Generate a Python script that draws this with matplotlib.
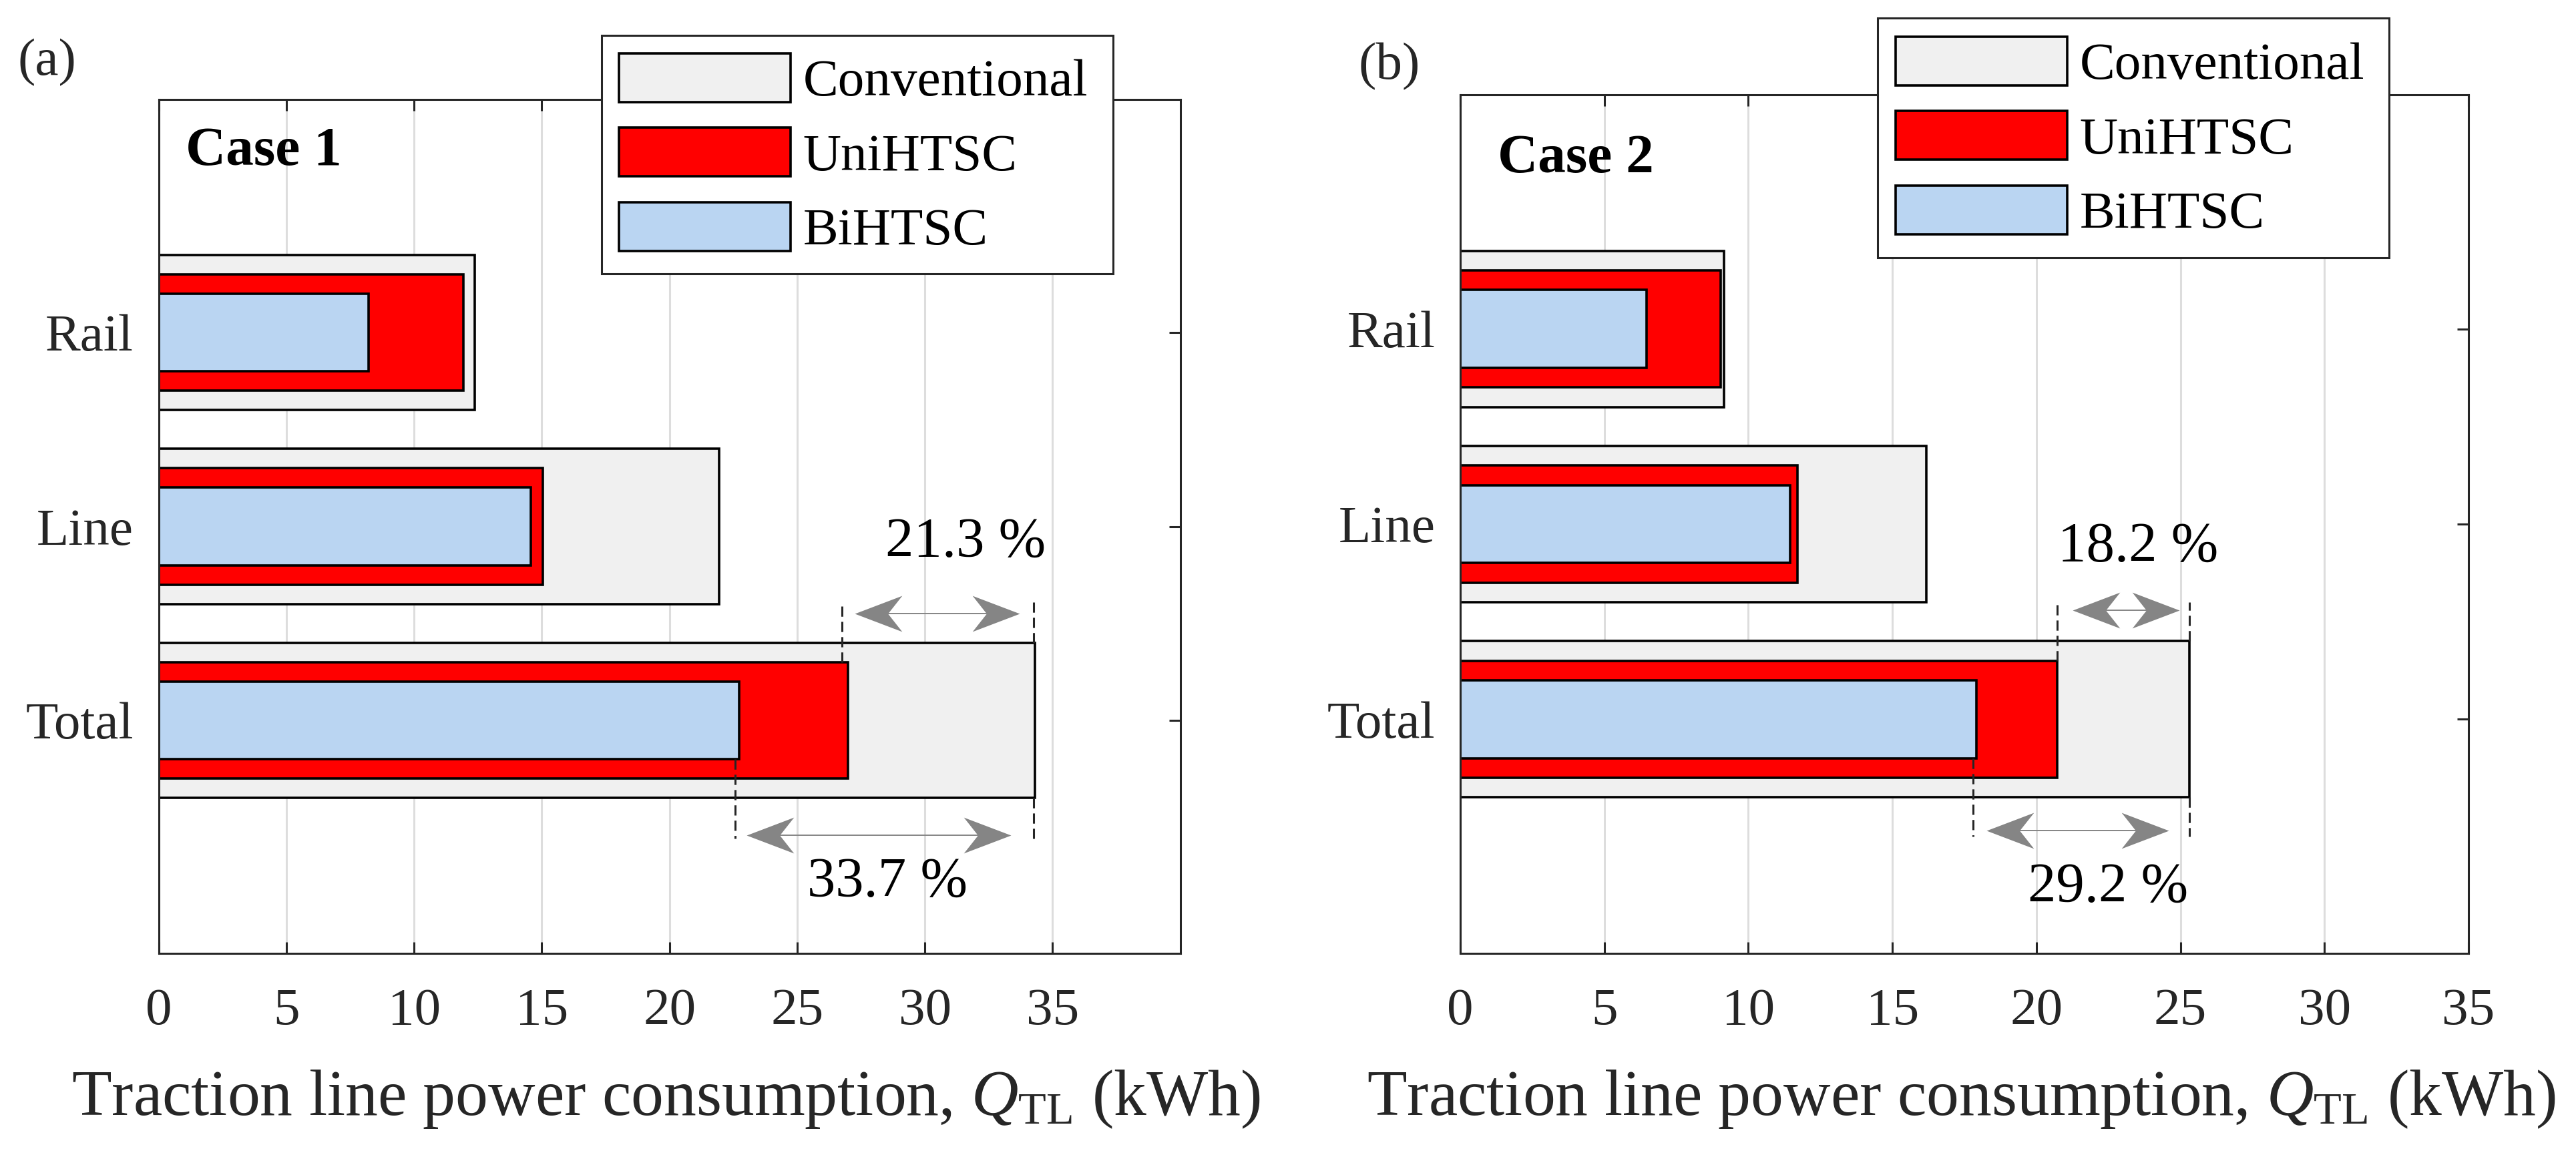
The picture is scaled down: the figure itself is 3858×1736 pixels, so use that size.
import matplotlib
matplotlib.use('Agg')
import matplotlib.pyplot as plt
from matplotlib.path import Path
from matplotlib.markers import MarkerStyle

plt.rcParams['font.family'] = ['Liberation Serif', 'DejaVu Serif']
plt.rcParams['mathtext.fontset'] = 'custom'
plt.rcParams['mathtext.rm'] = 'Liberation Serif'
plt.rcParams['mathtext.it'] = 'Liberation Serif:italic'

# ---------------- data ----------------
categories = ['Total', 'Line', 'Rail']
series_names = ['Conventional', 'UniHTSC', 'BiHTSC']

case1_conv = [34.30, 21.94, 12.38]
case1_uni = [27.00, 15.05, 11.93]
case1_bi = [22.74, 14.57, 8.23]

case2_conv = [25.31, 16.19, 9.15]
case2_uni = [20.72, 11.71, 9.03]
case2_bi = [17.92, 11.46, 6.47]

xticks = [0, 5, 10, 15, 20, 25, 30, 35]
case_titles = ['Case 1', 'Case 2']
panel_letters = ['(a)', '(b)']
xlimits = [40, 35]
xlabel_text = 'Traction line power consumption, $\\mathit{Q}_{\\mathrm{TL}}$ (kWh)'

# annotations
case1_pct = ['21.3 %', '33.7 %']
case1_pct_x = [31.6, 28.54]
case1_pct_y = [1.914, 0.165]
case1_arrow_x0 = [27.26, 23.03]
case1_arrow_x1 = [33.72, 33.38]
case1_arrow_y = [1.552, 0.41]
case1_dash_x = [26.76, 34.26, 22.58, 34.25]
case1_dash_y0 = [1.30, 1.40, 0.80, 0.60]
case1_dash_y1 = [1.59, 1.61, 0.39, 0.39]

case2_pct = ['18.2 %', '29.2 %']
case2_pct_x = [23.54, 22.48]
case2_pct_y = [1.88, 0.135]
case2_arrow_x0 = [21.26, 18.27]
case2_arrow_x1 = [24.96, 24.59]
case2_arrow_y = [1.56, 0.431]
case2_dash_x = [20.72, 25.31, 17.80, 25.31]
case2_dash_y0 = [1.30, 1.40, 0.80, 0.60]
case2_dash_y1 = [1.60, 1.60, 0.40, 0.40]

# ---------------- styling ----------------
C_CONV = '#F0F0F0'
C_UNI = '#FF0000'
C_BI = '#BAD5F2'
DARK = '#262626'
GRAY = '#858585'

W, H = 3858, 1736
fig = plt.figure(figsize=(W / 100, H / 100), dpi=100)

axes_px = [(237.6, 1767.6, 149.0, 1428.0), (2187.0, 3697.0, 142.0, 1428.0)]
legend_px = [(900.5, 53, 766, 357), (2811.7, 27, 766, 359)]
case_pos = [(0.0265, 0.9234), (0.037, 0.910)]
letter_pos = [(27 / W, 0.9464), (2035 / W, 0.9427)]
XLABEL_W = 1781.0
ROW_PITCH = 111.5
LEG_FS = 57

head_r = MarkerStyle(Path([(0, 0), (-1, 0.38), (-0.7, 0), (-1, -0.38), (0, 0)],
                          [Path.MOVETO, Path.LINETO, Path.LINETO, Path.LINETO, Path.CLOSEPOLY]))
head_l = MarkerStyle(Path([(0, 0), (1, 0.38), (0.7, 0), (1, -0.38), (0, 0)],
                          [Path.MOVETO, Path.LINETO, Path.LINETO, Path.LINETO, Path.CLOSEPOLY]))

cases = [
    (case1_conv, case1_uni, case1_bi, case1_pct, case1_pct_x, case1_pct_y,
     case1_arrow_x0, case1_arrow_x1, case1_arrow_y, case1_dash_x, case1_dash_y0, case1_dash_y1),
    (case2_conv, case2_uni, case2_bi, case2_pct, case2_pct_x, case2_pct_y,
     case2_arrow_x0, case2_arrow_x1, case2_arrow_y, case2_dash_x, case2_dash_y0, case2_dash_y1),
]


def make_legend(ax, handles, i, ls, bp):
    lx, ly, lw_, lh = legend_px[i]
    leg = ax.legend(handles, series_names, loc='upper left', mode='expand',
                    bbox_to_anchor=(lx / W, 1 - (ly + lh) / H, lw_ / W, lh / H),
                    bbox_transform=fig.transFigure, fontsize=LEG_FS,
                    handlelength=3.24, handleheight=1.048, labelspacing=ls,
                    borderpad=bp, handletextpad=0.24, borderaxespad=0,
                    fancybox=False, framealpha=1, edgecolor=DARK)
    leg.get_frame().set_linewidth(2.2)
    leg.set_zorder(20)
    return leg


ypos = [1, 2, 3]
axes_list, handle_list, leg_list = [], [], []
for i, (conv, uni, bi, pct, px, py, ax0, ax1, ay, dx, dy0, dy1) in enumerate(cases):
    l, r, t, b = axes_px[i]
    ax = fig.add_axes([l / W, 1 - b / H, (r - l) / W, (b - t) / H])
    ax.set_xlim(0, xlimits[i])
    ax.set_ylim(-0.2, 4.2)
    ax.xaxis.grid(True, color='#DDDDDD', lw=2.2, zorder=0)
    ax.set_axisbelow(True)

    h1 = ax.barh(ypos, conv, height=0.8, color=C_CONV, edgecolor='black', lw=2.6, zorder=2)
    h2 = ax.barh(ypos, uni, height=0.6, color=C_UNI, edgecolor='black', lw=2.6, zorder=3)
    h3 = ax.barh(ypos, bi, height=0.4, color=C_BI, edgecolor='black', lw=2.6, zorder=4)

    for x, y0, y1 in zip(dx, dy0, dy1):
        ax.plot([x, x], [y0, y1], color=DARK, lw=2.2, ls=(0, (5, 2.5)), zorder=6)
    for x0, x1, y in zip(ax0, ax1, ay):
        ax.plot([x0 + 0.5, x1 - 0.5], [y, y], color=GRAY, lw=1.4, zorder=7)
        ax.plot([x0], [y], marker=head_l, markersize=102, color=GRAY, mew=0, ls='none', zorder=7)
        ax.plot([x1], [y], marker=head_r, markersize=102, color=GRAY, mew=0, ls='none', zorder=7)
    for s, x, y in zip(pct, px, py):
        ax.text(x, y, s, fontsize=61, ha='center', va='center', zorder=8)

    ax.set_xticks(xticks)
    ax.set_xticklabels([str(v) for v in xticks])
    ax.set_yticks(ypos)
    ax.set_yticklabels(categories)
    ax.tick_params(direction='in', length=12, width=2.2, color=DARK, top=True, right=True,
                   labelsize=57, labelcolor='#262626')
    ax.tick_params(axis='x', pad=37)
    ax.tick_params(axis='y', pad=27)
    for sp in ax.spines.values():
        sp.set_color(DARK)
        sp.set_linewidth(2.2)
        sp.set_zorder(9)

    ax.set_xlabel(xlabel_text, fontsize=70, color='#262626')
    ax.xaxis.set_label_coords(0.4967, (b - 1670) / (b - t))
    ax.xaxis.label.set_va('baseline')

    ax.text(case_pos[i][0], case_pos[i][1], case_titles[i], transform=ax.transAxes,
            fontsize=60, fontweight='bold', va='baseline', ha='left', zorder=8)

    fig.text(letter_pos[i][0], letter_pos[i][1], panel_letters[i], fontsize=57,
             ha='left', va='center', color='#262626')

    axes_list.append(ax)
    handle_list.append([h1, h2, h3])
    leg_list.append(make_legend(ax, [h1, h2, h3], i, 0.30, 0.30))

# ---- fit text/legend sizes to the measured layout of the reference ----
fs_px = LEG_FS * 100 / 72
fig.canvas.draw()
rend = fig.canvas.get_renderer()
for i, ax in enumerate(axes_list):
    wlab = ax.xaxis.label.get_window_extent(rend).width
    ax.xaxis.label.set_fontsize(70 * XLABEL_W / wlab)

    leg = leg_list[i]
    hb = [h.get_window_extent(rend) for h in leg.legend_handles]
    pitch = (hb[0].y0 - hb[2].y0) / 2
    ls_new = 0.30 + (ROW_PITCH - pitch) / fs_px
    leg.remove()
    leg = make_legend(ax, handle_list[i], i, ls_new, 0.30)
    fig.canvas.draw()
    hgt = leg.get_frame().get_window_extent(rend).height
    bp_new = 0.30 + (legend_px[i][3] - hgt) / (2 * fs_px)
    leg.remove()
    leg = make_legend(ax, handle_list[i], i, ls_new, bp_new)
    leg_list[i] = leg

fig.savefig('out.png', dpi=100)
